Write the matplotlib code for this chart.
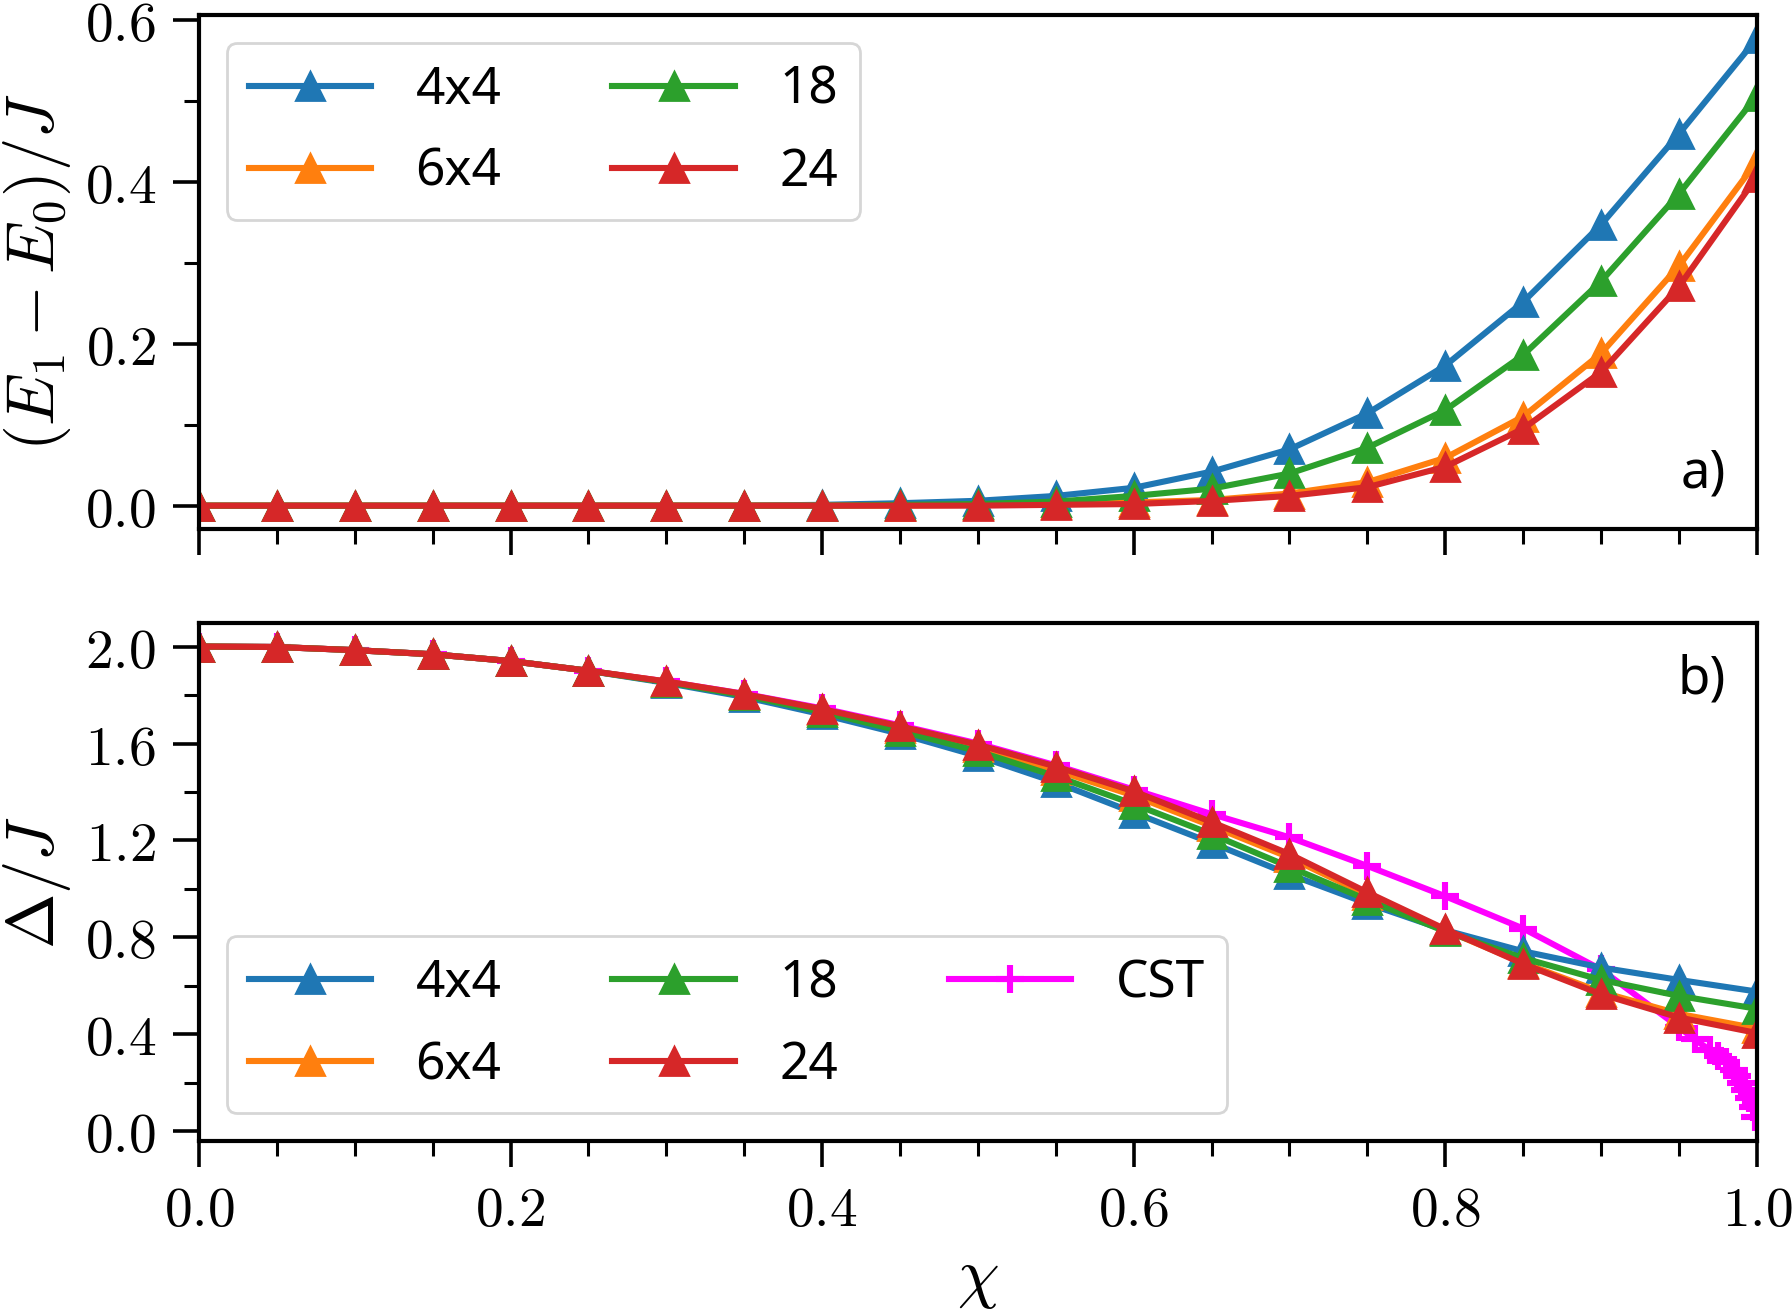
import matplotlib
matplotlib.use("Agg")
import matplotlib.pyplot as plt
from matplotlib.ticker import MultipleLocator, FuncFormatter

plt.rcParams['mathtext.fontset'] = 'cm'
plt.rcParams['font.family'] = ['Noto Sans', 'DejaVu Sans']
plt.rcParams['font.size'] = 20

chi = [0.0, 0.05, 0.1, 0.15, 0.2, 0.25, 0.3, 0.35, 0.4, 0.45, 0.5,
       0.55, 0.6, 0.65, 0.7, 0.75, 0.8, 0.85, 0.9, 0.95, 1.0]

labels = ["4x4", "6x4", "18", "24"]
colors = ["#1f77b4", "#ff7f0e", "#2ca02c", "#d62728"]

gap_4x4 = [0, 0, 0, 0, 0, 0, 0, 0, 0.001, 0.003, 0.006,
           0.012, 0.022, 0.042, 0.0695, 0.114, 0.173, 0.2515, 0.347, 0.459, 0.577]
gap_6x4 = [0, 0, 0, 0, 0, 0, 0, 0, 0, 0, 0.001,
           0.002, 0.004, 0.007, 0.015, 0.029, 0.059, 0.11, 0.188, 0.296, 0.425]
gap_18 = [0, 0, 0, 0, 0, 0, 0, 0, 0, 0.001, 0.002,
          0.005, 0.012, 0.021, 0.0397, 0.0715, 0.118, 0.186, 0.277, 0.385, 0.506]
gap_24 = [0, 0, 0, 0, 0, 0, 0, 0, 0, 0, 0,
          0.001, 0.002, 0.0058, 0.012, 0.0228, 0.048, 0.095, 0.165, 0.2706, 0.406]

delta_4x4 = [2.0, 1.998, 1.985, 1.968, 1.94, 1.90, 1.85, 1.792, 1.72, 1.64, 1.548,
             1.44, 1.315, 1.19, 1.06, 0.94, 0.83, 0.743, 0.676, 0.625, 0.577]
delta_6x4 = [2.0, 1.998, 1.985, 1.968, 1.94, 1.90, 1.855, 1.802, 1.738, 1.664, 1.585,
             1.49, 1.385, 1.26, 1.13, 0.975, 0.83, 0.695, 0.575, 0.485, 0.425]
delta_18 = [2.0, 1.998, 1.985, 1.968, 1.94, 1.90, 1.853, 1.798, 1.73, 1.652, 1.568,
            1.465, 1.35, 1.226, 1.091, 0.955, 0.825, 0.715, 0.625, 0.559, 0.506]
delta_24 = [2.0, 1.998, 1.985, 1.968, 1.94, 1.90, 1.856, 1.804, 1.742, 1.671, 1.595,
            1.505, 1.403, 1.276, 1.144, 0.986, 0.834, 0.691, 0.566, 0.470, 0.406]

chi_cst = [0.0, 0.05, 0.1, 0.15, 0.2, 0.25, 0.3, 0.35, 0.4, 0.45, 0.5, 0.55,
           0.6, 0.65, 0.7, 0.75, 0.8, 0.85, 0.9, 0.95, 0.96, 0.97, 0.975,
           0.98, 0.985, 0.9875, 0.99, 0.9925, 0.995, 0.9975, 0.999]
delta_cst = [2.0, 1.998, 1.985, 1.968, 1.94, 1.90, 1.856, 1.805, 1.745, 1.675, 1.60, 1.51,
             1.41, 1.309, 1.213, 1.095, 0.970, 0.837, 0.668, 0.43, 0.38, 0.335, 0.31,
             0.285, 0.252, 0.228, 0.20, 0.172, 0.14, 0.10, 0.058]

gaps = [gap_4x4, gap_6x4, gap_18, gap_24]
deltas = [delta_4x4, delta_6x4, delta_18, delta_24]

fig = plt.figure(figsize=(8.96, 6.57), dpi=200)
ax1 = fig.add_axes([0.111, 0.5974, 0.8694, 0.3912])
ax2 = fig.add_axes([0.111, 0.1317, 0.8694, 0.3942])

lw = 2.2
ms = 10
for lab, c, g in zip(labels, colors, gaps):
    ax1.plot(chi, g, marker='^', color=c, lw=lw, ms=ms, label=lab)

handles = []
for lab, c, d in zip(labels, colors, deltas):
    h, = ax2.plot(chi, d, marker='^', color=c, lw=lw, ms=ms, label=lab)
    handles.append(h)
hc, = ax2.plot(chi_cst, delta_cst, marker='+', color='#ff00ff', lw=lw, ms=10,
               mew=2.2, label='CST', zorder=1.9)
handles.append(hc)

fmt = FuncFormatter(lambda v, p: r'$%.1f$' % v)
for ax in (ax1, ax2):
    ax.set_xlim(0, 1)
    ax.xaxis.set_major_locator(MultipleLocator(0.2))
    ax.xaxis.set_minor_locator(MultipleLocator(0.05))
    ax.xaxis.set_major_formatter(fmt)
    ax.yaxis.set_major_formatter(fmt)
    ax.tick_params(which='major', direction='out', length=9.5, width=1.3, pad=6, labelsize=20)
    ax.tick_params(which='minor', direction='out', length=5.5, width=1.1)
    for s in ax.spines.values():
        s.set_linewidth(1.5)

ax1.yaxis.set_major_locator(MultipleLocator(0.2))
ax1.yaxis.set_minor_locator(MultipleLocator(0.1))
ax1.tick_params(axis='x', labelbottom=False)
ax2.yaxis.set_major_locator(MultipleLocator(0.4))
ax2.yaxis.set_minor_locator(MultipleLocator(0.2))

ax1.set_ylabel(r'$(E_1-E_0)/J$', fontsize=24)
ax2.set_ylabel(r'$\Delta/J$', fontsize=24)
ax2.set_xlabel(r'$\chi$', fontsize=24, labelpad=1.5)

lfs = 18.5
leg_kw = dict(fontsize=lfs, handlelength=2.38, handletextpad=0.865,
              columnspacing=2.16, borderpad=0.43, labelspacing=0.6,
              borderaxespad=0.54)
ax1.legend(loc='upper left', ncol=2, **leg_kw)
ax2.legend(handles=handles, loc='lower left', ncol=3, **leg_kw)

ax1.text(0.98, 0.107, 'a)', transform=ax1.transAxes, ha='right', va='center', fontsize=19)
ax2.text(0.98, 0.89, 'b)', transform=ax2.transAxes, ha='right', va='center', fontsize=19)

fig.savefig('out.png', dpi=200)
